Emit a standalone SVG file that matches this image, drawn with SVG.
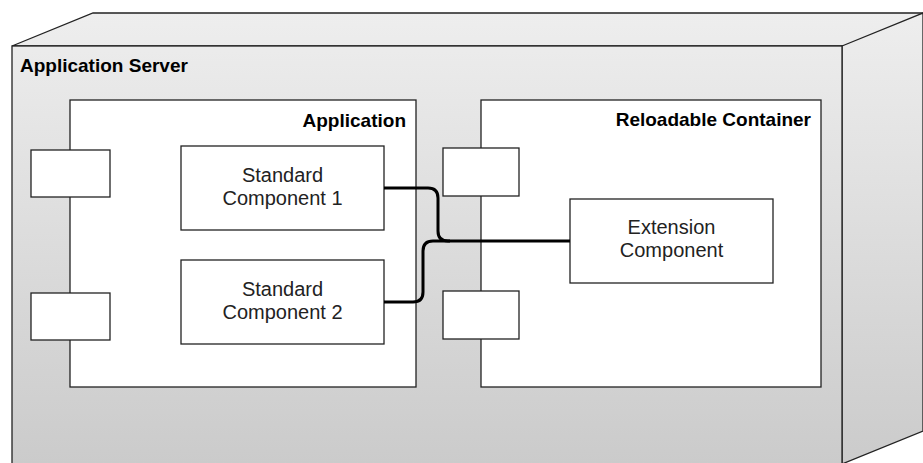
<svg xmlns="http://www.w3.org/2000/svg" width="923" height="463" viewBox="0 0 923 463">
<defs>
<linearGradient id="g" gradientUnits="userSpaceOnUse" x1="0" y1="12" x2="0" y2="463">
<stop offset="0" stop-color="#eeeeee"/>
<stop offset="1" stop-color="#cbcbcb"/>
</linearGradient>
<style>
.face{fill:url(#g);stroke:#222;stroke-width:1.3}
.box{fill:#fff;stroke:#222;stroke-width:1.3}
.lbl{font-family:"Liberation Sans",Arial,sans-serif;font-size:20px;fill:#222}
.b{font-weight:bold;font-size:19px;fill:#000}
.c{text-anchor:middle}
.conn{fill:none;stroke:#000;stroke-width:3}
</style>
</defs>
<g id="server">
<polygon class="face" points="12,46 93,13 930,13 849,46"/>
<polygon class="face" points="842,46 923,13 923,431 842,464"/>
<rect class="face" x="12" y="46" width="830" height="430"/>
<text class="lbl b" x="20" y="72">Application Server</text>
</g>
<g id="application">
<rect class="box" x="70" y="100" width="346" height="287"/>
<text class="lbl b" x="406" y="127" text-anchor="end">Application</text>
</g>
<g id="app-port-1"><rect class="box" x="31" y="150" width="79" height="47"/></g>
<g id="app-port-2"><rect class="box" x="31" y="293" width="79" height="47"/></g>
<g id="std-comp-1">
<rect class="box" x="181" y="146" width="203" height="84"/>
<text class="lbl c" x="282.5" y="182">Standard</text>
<text class="lbl c" x="282.5" y="205">Component 1</text>
</g>
<g id="std-comp-2">
<rect class="box" x="181" y="260" width="203" height="84"/>
<text class="lbl c" x="282.5" y="296">Standard</text>
<text class="lbl c" x="282.5" y="319">Component 2</text>
</g>
<g id="reloadable">
<rect class="box" x="481" y="100" width="340" height="287"/>
<text class="lbl b" x="811" y="126" text-anchor="end">Reloadable Container</text>
</g>
<g id="rc-port-1"><rect class="box" x="443" y="148" width="76" height="48"/></g>
<g id="rc-port-2"><rect class="box" x="443" y="291" width="76" height="48"/></g>
<g id="extension">
<rect class="box" x="570" y="199" width="203" height="84"/>
<text class="lbl c" x="671.5" y="234">Extension</text>
<text class="lbl c" x="671.5" y="257">Component</text>
</g>
<g id="connectors">
<path class="conn" d="M384,188 H428 Q438,188 438,198 V231 Q438,241 448,241 H570"/>
<path class="conn" d="M384,302 H413 Q423,302 423,292 V251 Q423,241 433,241 H450"/>
</g>
</svg>
